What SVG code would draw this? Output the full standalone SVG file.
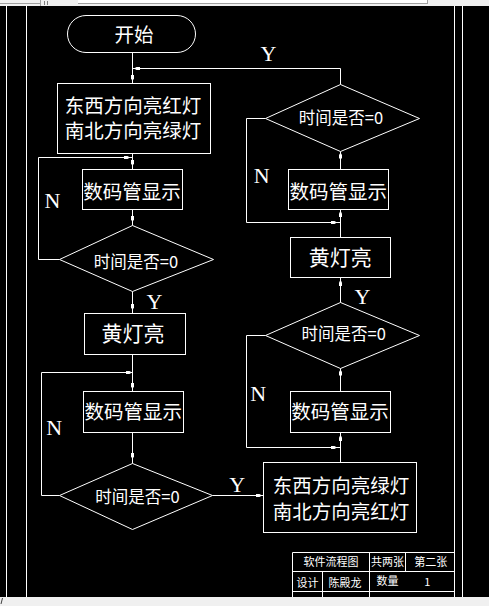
<svg xmlns="http://www.w3.org/2000/svg" width="489" height="606" viewBox="0 0 489 606">
<defs>
<style>
.ln{fill:none;stroke:#fff;stroke-width:1}
.cj{font-family:"Noto Sans CJK SC","Noto Sans",sans-serif;fill:#fff;text-anchor:middle}
.bx{font-size:19.5px}
.hl{font-size:21px}
.dm{font-size:16.5px}
.tb{font-size:11px}
.yn{font-family:"Liberation Serif","Times New Roman",serif;font-size:22px;fill:#fff;text-anchor:middle}
.ah{fill:#fff}
</style>
<path id="ad" d="M-1.5,-6H1.5V-2.5L0,0L-1.5,-2.5Z"/>
</defs>
<rect x="0" y="0" width="489" height="606" fill="#000"/>
<g id="chrome">
<rect x="0" y="0" width="489" height="6" fill="#f0f0f0"/>
<rect x="78" y="0" width="349" height="3.5" fill="#fff"/>
<line x1="0" y1="3.5" x2="40" y2="3.5" stroke="#a0a0a0"/>
<line x1="78" y1="3.5" x2="427" y2="3.5" stroke="#a0a0a0"/>
<line x1="427.5" y1="0" x2="427.5" y2="4" stroke="#a0a0a0"/>
<line x1="40.5" y1="0" x2="40.5" y2="6" stroke="#a0a0a0"/>
<line x1="44.5" y1="1" x2="44.5" y2="5" stroke="#808080"/>
<line x1="47.5" y1="1" x2="47.5" y2="5" stroke="#808080"/>
<rect x="0" y="597" width="489" height="9" fill="#f0f0f0"/>
<line x1="2.5" y1="598" x2="1" y2="604" stroke="#404040"/>
</g>
<g id="frame" class="ln">
<line x1="6.5" y1="6" x2="6.5" y2="597"/>
<line x1="26.5" y1="6" x2="26.5" y2="597"/>
<line x1="454.5" y1="6" x2="454.5" y2="597"/>
<line x1="462.5" y1="6" x2="462.5" y2="597"/>
</g>
<g id="connectors">
<g class="ln">
<polyline points="132.5,52.5 132.5,83.5"/>
<polyline points="340.5,84.5 340.5,68.5 132.5,68.5"/>
<polyline points="132.5,153.5 132.5,169.5"/>
<polyline points="59.5,259.5 38.5,259.5 38.5,157.5 132.5,157.5"/>
<polyline points="132.5,209.5 132.5,225.5"/>
<polyline points="132.5,291.5 132.5,313.5"/>
<polyline points="132.5,354.5 132.5,391.5"/>
<polyline points="59.5,495.5 41.5,495.5 41.5,372.5 132.5,372.5"/>
<polyline points="132.5,432.5 132.5,463.5"/>
<polyline points="212.5,495.5 263.5,495.5"/>
<polyline points="340.5,462.5 340.5,432.5"/>
<polyline points="265.5,335.5 246.5,335.5 246.5,447.5 340.5,447.5"/>
<polyline points="340.5,391.5 340.5,368.5"/>
<polyline points="340.5,302.5 340.5,277.5"/>
<polyline points="340.5,237.5 340.5,209.5"/>
<polyline points="265.5,118.5 246.5,118.5 246.5,222.5 340.5,222.5"/>
<polyline points="340.5,169.5 340.5,151.5"/>
</g>
<g class="ah">
<use href="#ad" transform="translate(134,68.5) rotate(90)"/>
<use href="#ad" transform="translate(132.5,81)"/>
<use href="#ad" transform="translate(130,157.5) rotate(-90)"/>
<use href="#ad" transform="translate(132.5,166)"/>
<use href="#ad" transform="translate(132.5,222)"/>
<use href="#ad" transform="translate(132.5,310)"/>
<use href="#ad" transform="translate(132,372.5) rotate(-90)"/>
<use href="#ad" transform="translate(132.5,389)"/>
<use href="#ad" transform="translate(132.5,459)"/>
<use href="#ad" transform="translate(262,495.5) rotate(-90)"/>
<use href="#ad" transform="translate(340.5,435) rotate(180)"/>
<use href="#ad" transform="translate(337,447.5) rotate(-90)"/>
<use href="#ad" transform="translate(340.5,369.5) rotate(180)"/>
<use href="#ad" transform="translate(340.5,280) rotate(180)"/>
<use href="#ad" transform="translate(340.5,211) rotate(180)"/>
<use href="#ad" transform="translate(337,222.5) rotate(-90)"/>
<use href="#ad" transform="translate(340.5,152.5) rotate(180)"/>
</g>
<g class="yn">
<text x="268.5" y="61">Y</text>
<text x="52.5" y="208.3">N</text>
<text x="154.5" y="309">Y</text>
<text x="54.2" y="435">N</text>
<text x="237.2" y="491.7">Y</text>
<text x="261.7" y="183.3">N</text>
<text x="362.5" y="304">Y</text>
<text x="258.3" y="401">N</text>
</g>
</g>
<g id="start">
<rect class="ln" x="67.5" y="15.5" width="128" height="37" rx="18.5"/>
<text class="cj bx" x="134" y="42.2">开始</text>
</g>
<g id="box1">
<rect class="ln" x="57.5" y="83.5" width="153" height="70"/>
<text class="cj bx" x="133" y="113.2">东西方向亮红灯</text>
<text class="cj bx" x="133" y="138.2">南北方向亮绿灯</text>
</g>
<g id="disp1">
<rect class="ln" x="82.5" y="169.5" width="100" height="40"/>
<text class="cj bx" x="132" y="198.6">数码管显示</text>
</g>
<g id="dec1">
<polygon class="ln" points="132.5,225.5 213.5,259.5 132.5,291.5 59.5,259.5"/>
<text class="cj dm" x="136" y="268">时间是否=0</text>
</g>
<g id="yellow1">
<rect class="ln" x="84.5" y="313.5" width="101" height="41"/>
<text class="cj hl" x="133" y="341">黄灯亮</text>
</g>
<g id="disp2">
<rect class="ln" x="83.5" y="391.5" width="100" height="41"/>
<text class="cj bx" x="133.3" y="418.7">数码管显示</text>
</g>
<g id="dec2">
<polygon class="ln" points="132.5,463.5 212.5,495.5 132.5,529.5 59.5,495.5"/>
<text class="cj dm" x="137.5" y="503.2">时间是否=0</text>
</g>
<g id="box2">
<rect class="ln" x="263.5" y="462.5" width="153" height="70"/>
<text class="cj bx" x="341" y="492.7">东西方向亮绿灯</text>
<text class="cj bx" x="341" y="518.7">南北方向亮红灯</text>
</g>
<g id="disp3">
<rect class="ln" x="290.5" y="391.5" width="100" height="41"/>
<text class="cj bx" x="340" y="419">数码管显示</text>
</g>
<g id="dec3">
<polygon class="ln" points="340.5,302.5 419.5,335.5 340.5,368.5 265.5,335.5"/>
<text class="cj dm" x="343.7" y="340">时间是否=0</text>
</g>
<g id="yellow2">
<rect class="ln" x="290.5" y="237.5" width="100" height="40"/>
<text class="cj hl" x="340.3" y="264.7">黄灯亮</text>
</g>
<g id="disp4">
<rect class="ln" x="288.5" y="169.5" width="100" height="40"/>
<text class="cj bx" x="338.3" y="198.6">数码管显示</text>
</g>
<g id="dec4">
<polygon class="ln" points="340.5,84.5 419.5,118.5 340.5,151.5 265.5,118.5"/>
<text class="cj dm" x="341" y="124.2">时间是否=0</text>
</g>
<g id="titleblock">
<g class="ln">
<line x1="292.5" y1="552.5" x2="454.5" y2="552.5"/>
<line x1="292.5" y1="571.5" x2="454.5" y2="571.5"/>
<line x1="292.5" y1="591.5" x2="454.5" y2="591.5"/>
<line x1="292.5" y1="552.5" x2="292.5" y2="597"/>
<line x1="369.5" y1="552.5" x2="369.5" y2="597"/>
<line x1="405.5" y1="552.5" x2="405.5" y2="571.5"/>
<line x1="322.5" y1="571.5" x2="322.5" y2="597"/>
</g>
<g class="cj tb">
<text x="331" y="565.9">软件流程图</text>
<text x="387.5" y="565.9">共两张</text>
<text x="430.7" y="565.9">第二张</text>
<text x="307.5" y="586.7">设计</text>
<text x="345" y="586.7">陈殿龙</text>
<text x="387.5" y="584.9">数量</text>
<text x="427.3" y="585.5">1</text>
</g>
</g>
</svg>
